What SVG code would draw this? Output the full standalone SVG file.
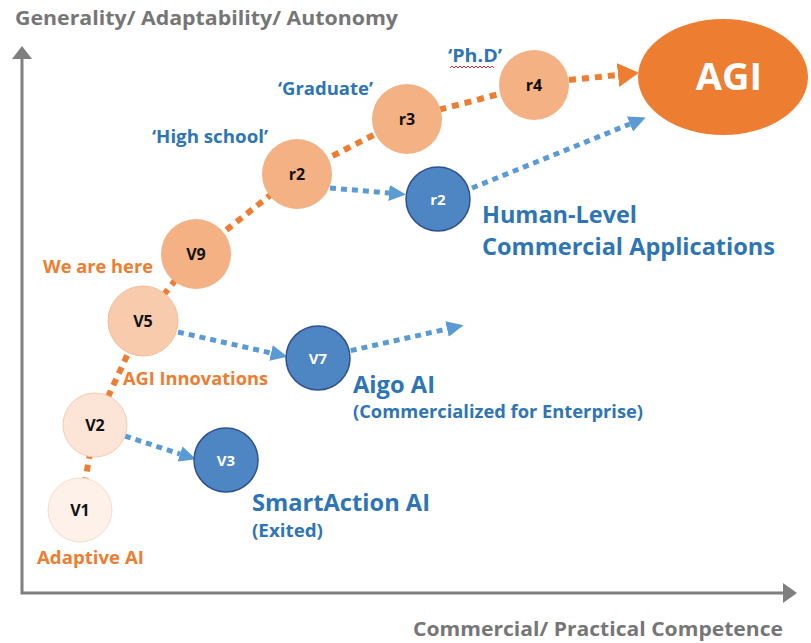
<svg xmlns="http://www.w3.org/2000/svg" width="811" height="643" viewBox="0 0 811 643">
<defs>
<style>
text{font-family:"Open Sans",Lato,"Liberation Sans",sans-serif;font-weight:bold}
.axis{stroke:#7f7f7f;stroke-width:3;fill:none}
.axlab{fill:#767676;font-size:20px}
.blue{fill:#2e75b6}
.orange{fill:#ed7d31}
.lbl{font-size:17px}
.big{font-size:24px}
.nl{font-size:16px;text-anchor:middle;fill:#111111}
.nlw{font-size:15px;text-anchor:middle;fill:#ffffff}
.bnode{fill:#4e86c3;stroke:#2f528f;stroke-width:1.5}
.onode{fill:#f4b183}
.odot{stroke:#ed7d31;stroke-width:6;stroke-dasharray:7 6;fill:none}
.bdot{stroke:#5b9bd5;stroke-width:5;stroke-dasharray:6 5;fill:none}
</style>
<marker id="ab" markerUnits="userSpaceOnUse" markerWidth="20" markerHeight="20" refX="0" refY="8" orient="auto" viewBox="0 0 20 16">
<path d="M0,0 L17,8 L0,16 Z" fill="#5b9bd5"/>
</marker>
<marker id="ao" markerUnits="userSpaceOnUse" markerWidth="24" markerHeight="26" refX="0" refY="12" orient="auto" viewBox="0 0 24 24">
<path d="M0,0 L21,12 L0,24 Z" fill="#ed7d31"/>
</marker>
</defs>
<rect width="811" height="643" fill="#ffffff"/>
<g id="axes">
<path class="axis" d="M22,58 L22,593 L784,593"/>
<path d="M12,59 L22,46 L32,59 Z" fill="#7f7f7f"/>
<path d="M783,583 L797,593 L783,603 Z" fill="#7f7f7f"/>
<text class="axlab" x="15" y="25" textLength="383" lengthAdjust="spacingAndGlyphs">Generality/ Adaptability/ Autonomy</text>
<text class="axlab" x="413" y="636" textLength="370" lengthAdjust="spacingAndGlyphs">Commercial/ Practical Competence</text>
</g>
<g id="connectors">
<path class="odot" d="M80,510 L95,425 L143,321 L196,254 L297,174 L407,118 L534,85"/>
<path class="odot" d="M569,80 L618,75" marker-end="url(#ao)"/>
<path class="bdot" d="M125,436 L180,454" marker-end="url(#ab)"/>
<path class="bdot" d="M178,332 L271,353" marker-end="url(#ab)"/>
<path class="bdot" d="M340,353 L447,329" marker-end="url(#ab)"/>
<path class="bdot" d="M330,188 L389,193" marker-end="url(#ab)"/>
<path class="bdot" d="M472,188 L630,124" marker-end="url(#ab)"/>
</g>
<g id="node-v1">
<circle cx="80" cy="510" r="32" fill="#fdf1ea" stroke="#fadcc8" stroke-width="1"/>
<text class="nl" x="80" y="516">V1</text>
</g>
<g id="node-v2">
<circle cx="95" cy="425" r="32" fill="#fce4d6" stroke="#f8cbad" stroke-width="1"/>
<text class="nl" x="95" y="431">V2</text>
</g>
<g id="node-v3">
<circle class="bnode" cx="226" cy="460" r="32"/>
<text class="nlw" x="226" y="466">V3</text>
</g>
<g id="node-v5">
<circle cx="143" cy="321" r="35" fill="#f8cbad" stroke="#f5bd97" stroke-width="1"/>
<text class="nl" x="143" y="327">V5</text>
</g>
<g id="node-v7">
<circle class="bnode" cx="318" cy="358" r="32"/>
<text class="nlw" x="318" y="364">V7</text>
</g>
<g id="node-v9">
<circle class="onode" cx="196" cy="254" r="35"/>
<text class="nl" x="196" y="260">V9</text>
</g>
<g id="node-r2">
<circle class="onode" cx="297" cy="174" r="35"/>
<text class="nl" x="297" y="180">r2</text>
</g>
<g id="node-r3">
<circle class="onode" cx="407" cy="119" r="35"/>
<text class="nl" x="407" y="125">r3</text>
</g>
<g id="node-r4">
<circle class="onode" cx="534" cy="85" r="35"/>
<text class="nl" x="534" y="91">r4</text>
</g>
<g id="node-r2b">
<circle class="bnode" cx="438" cy="199" r="32"/>
<text class="nlw" x="438" y="205">r2</text>
</g>
<g id="node-agi">
<ellipse cx="723" cy="77" rx="85" ry="58" fill="#ed7d31"/>
<text x="729" y="90" font-size="38" fill="#ffffff" text-anchor="middle">AGI</text>
</g>
<g id="labels">
<text class="blue lbl" x="152" y="143" textLength="116" lengthAdjust="spacingAndGlyphs">‘High school’</text>
<text class="blue lbl" x="278" y="95" textLength="95" lengthAdjust="spacingAndGlyphs">‘Graduate’</text>
<text class="blue lbl" x="448" y="62" textLength="54" lengthAdjust="spacingAndGlyphs">‘Ph.D’</text>
<path d="M450,68 l2,-2 l2,2 l2,-2 l2,2 l2,-2 l2,2 l2,-2 l2,2 l2,-2 l2,2 l2,-2 l2,2 l2,-2 l2,2 l2,-2 l2,2 l2,-2 l2,2 l2,-2 l2,2 l2,-2 l2,2" fill="none" stroke="#e03030" stroke-width="1"/>
<text class="blue big" x="482" y="223" textLength="155" lengthAdjust="spacingAndGlyphs">Human-Level</text>
<text class="blue big" x="482" y="255" textLength="293" lengthAdjust="spacingAndGlyphs">Commercial Applications</text>
<text class="orange lbl" x="43" y="273" textLength="110" lengthAdjust="spacingAndGlyphs">We are here</text>
<text class="orange lbl" x="123" y="385" textLength="145" lengthAdjust="spacingAndGlyphs">AGI Innovations</text>
<text class="blue big" x="353" y="393" textLength="82" lengthAdjust="spacingAndGlyphs">Aigo AI</text>
<text class="blue lbl" x="353" y="418" textLength="290" lengthAdjust="spacingAndGlyphs">(Commercialized for Enterprise)</text>
<text class="blue big" x="252" y="511" textLength="178" lengthAdjust="spacingAndGlyphs">SmartAction AI</text>
<text class="blue lbl" x="252" y="537" textLength="71" lengthAdjust="spacingAndGlyphs">(Exited)</text>
<text class="orange lbl" x="37" y="564" textLength="107" lengthAdjust="spacingAndGlyphs">Adaptive AI</text>
</g>
</svg>
